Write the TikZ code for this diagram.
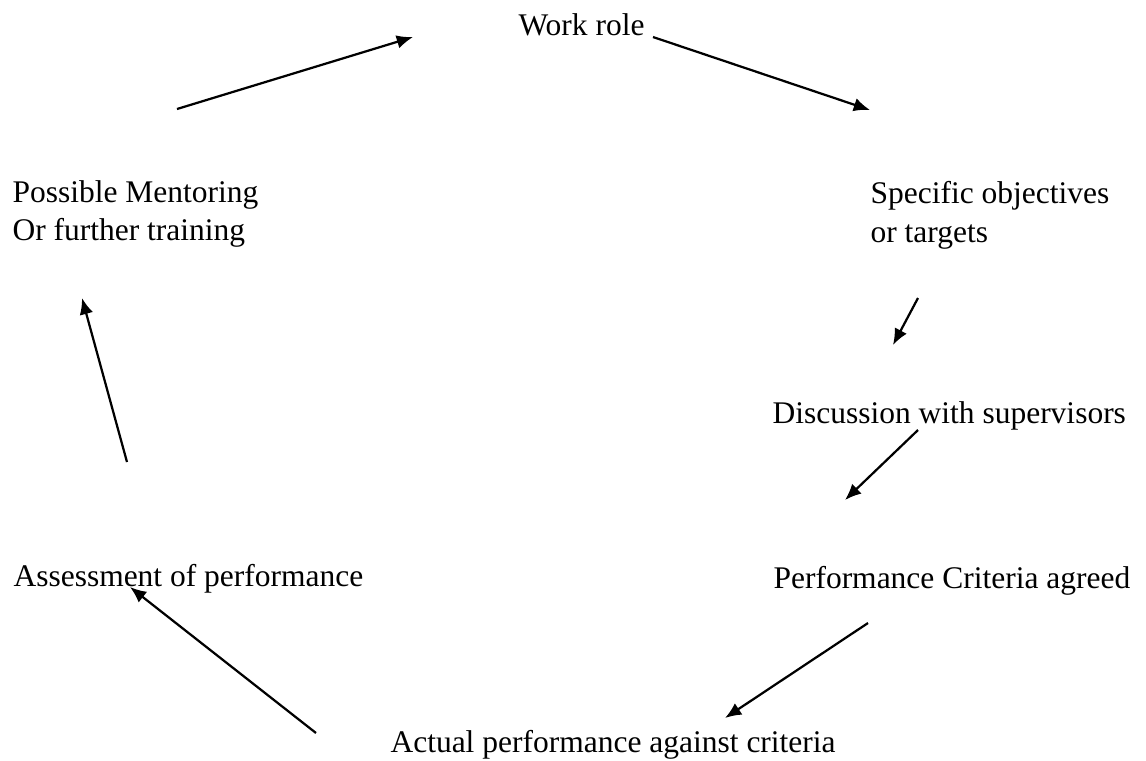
\documentclass[tikz,border=0pt]{standalone}
\usepackage{fontspec}
\setmainfont{Liberation Serif}
\usepackage{tikz}
\usetikzlibrary{arrows.meta,positioning}

\begin{document}
\begin{tikzpicture}[x=0.381pt,y=-0.381pt,>={Latex[length=6.2pt,width=5.2pt]},
    every node/.style={font=\fontsize{12}{14}\selectfont,inner sep=0pt,anchor=base west},
    cyc/.style={->,line width=0.85pt}]
    \useasboundingbox (0,0) rectangle (1146,760);
        \path
        % stages of the cycle
        +(518,35)  node (work) {Work role}
        +(870,203) node (spec) {Specific objectives}
        +(870,242) node (spectwo) {or targets}
        +(772,423) node (disc) {Discussion with supervisors}
        +(773,588) node (crit) {Performance Criteria agreed}
        +(390,752) node (actual) {Actual performance against criteria}
        +(13,586)  node (assess) {Assessment of performance}
        +(12,202)  node (ment) {Possible Mentoring}
        +(12,240)  node (menttwo) {Or further training};

        % arrow ends
        \path
        +(177,109) coordinate (m1) +(413,37)  coordinate (w1)
        +(653,37)  coordinate (w2) +(870,110) coordinate (s1)
        +(918,298) coordinate (s2) +(893,345) coordinate (d1)
        +(918,430) coordinate (d2) +(845,500) coordinate (c1)
        +(868,623) coordinate (c2) +(725,718) coordinate (p1)
        +(316,733) coordinate (p2) +(130,587) coordinate (a1)
        +(127,462) coordinate (a2) +(82,298)  coordinate (m2);

        \draw[cyc] (m1)--(w1);
        \draw[cyc] (w2)--(s1);
        \draw[cyc] (s2)--(d1);
        \draw[cyc] (d2)--(c1);
        \draw[cyc] (c2)--(p1);
        \draw[cyc] (p2)--(a1);
        \draw[cyc] (a2)--(m2);
    \end{tikzpicture}
\end{document}
